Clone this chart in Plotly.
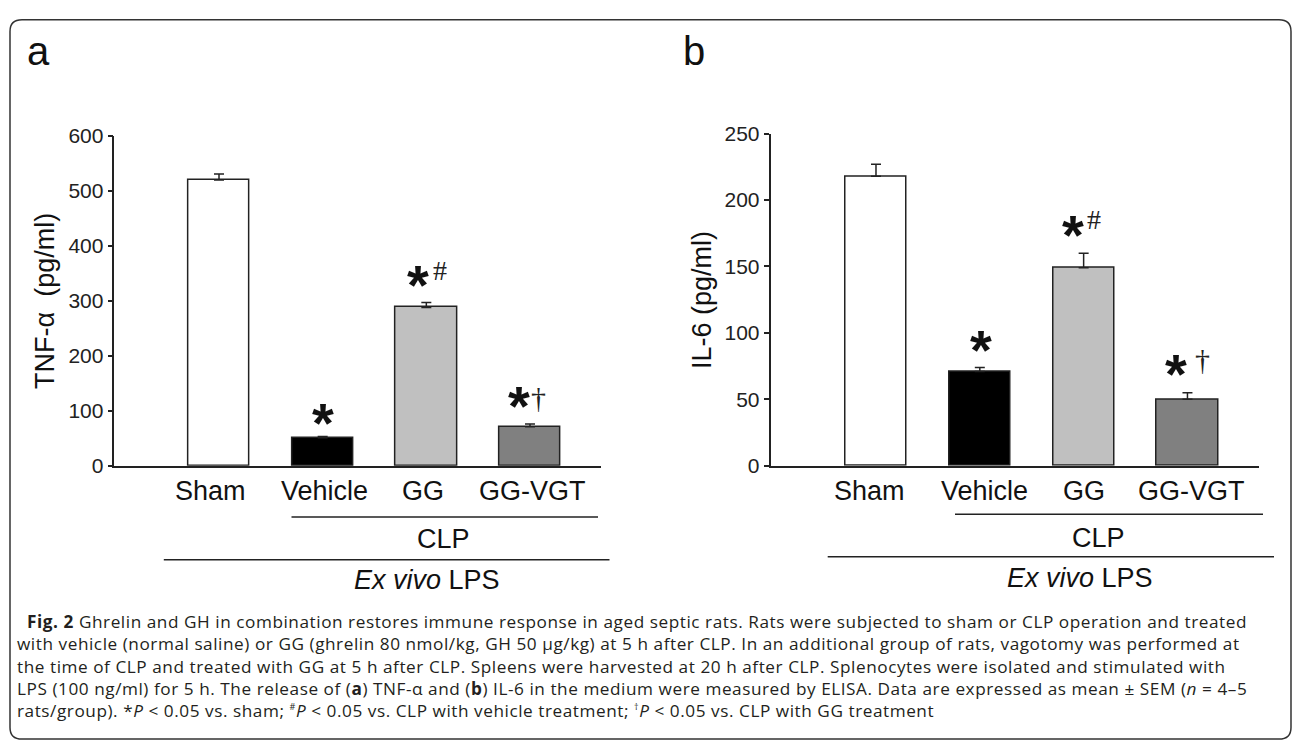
import plotly.graph_objects as go

W, H = 1295, 753

# ---------------- data ----------------
categories = ["Sham", "Vehicle", "GG", "GG-VGT"]
tnf_mean = [520, 51, 288, 71]
tnf_sem = [11, 2, 9, 5]
il6_mean = [218, 71, 149, 50]
il6_sem = [9, 3, 11, 5]
tnf_ticks = [0, 100, 200, 300, 400, 500, 600]
il6_ticks = [0, 50, 100, 150, 200, 250]
bar_colors = ["#ffffff", "#000000", "#c0c0c0", "#808080"]
tnf_marks = ["", "*", "*#", "*†"]
il6_marks = ["", "*", "*#", "*†"]

SUP = '<sup><span style="font-size:9px">{}</span></sup>'
caption_lines = [
    "&nbsp;&nbsp;<b>Fig. 2</b> Ghrelin and GH in combination restores immune response in aged septic rats. Rats were subjected to sham or CLP operation and treated",
    "with vehicle (normal saline) or GG (ghrelin 80 nmol/kg, GH 50 μg/kg) at 5 h after CLP. In an additional group of rats, vagotomy was performed at",
    "the time of CLP and treated with GG at 5 h after CLP. Spleens were harvested at 20 h after CLP. Splenocytes were isolated and stimulated with",
    "LPS (100 ng/ml) for 5 h. The release of (<b>a</b>) TNF-α and (<b>b</b>) IL-6 in the medium were measured by ELISA. Data are expressed as mean ± SEM (<i>n</i> = 4–5",
    "rats/group). *<i>P</i> &lt; 0.05 vs. sham; " + SUP.format("#") + "<i>P</i> &lt; 0.05 vs. CLP with vehicle treatment; "
    + SUP.format("†") + "<i>P</i> &lt; 0.05 vs. CLP with GG treatment",
]

# ---------------- helpers ----------------
def px(x):
    return x / W

def py(y):
    return 1 - y / H

INK = "#222222"
SANS = "Liberation Sans, Arial, sans-serif"
SERIF = "Liberation Serif, Times New Roman, serif"

fig = go.Figure()

panels = [
    dict(xa="x", ya="y", mean=tnf_mean, sem=tnf_sem),
    dict(xa="x2", ya="y2", mean=il6_mean, sem=il6_sem),
]

for p in panels:
    fig.add_trace(go.Bar(
        x=list(range(len(categories))), y=p["mean"],
        xaxis=p["xa"], yaxis=p["ya"],
        width=0.59,
        marker=dict(color=bar_colors, line=dict(color=INK, width=1.5)),
        error_y=dict(type="data", array=p["sem"], arrayminus=[0] * len(p["sem"]),
                     symmetric=False, color=INK, thickness=1.5, width=5),
        showlegend=False, hoverinfo="skip",
    ))

axis_common = dict(showline=True, linecolor=INK, linewidth=1.5, showgrid=False,
                   zeroline=False)

fig.update_layout(
    width=W, height=H,
    margin=dict(l=0, r=0, t=0, b=0),
    paper_bgcolor="white", plot_bgcolor="white",
    bargap=0,
    xaxis=dict(domain=[px(114.4), px(601)], range=[-1.009, 3.685],
               showticklabels=False, ticks="", anchor="y", **axis_common),
    yaxis=dict(domain=[py(468), py(128)], range=[0, 600], tickvals=tnf_ticks,
               ticks="outside", ticklen=5, tickwidth=1.5, tickcolor=INK,
               tickfont=dict(family=SANS, size=21, color=INK), anchor="x",
               **axis_common),
    xaxis2=dict(domain=[px(770.5), px(1259)], range=[-1.016, 3.689],
                showticklabels=False, ticks="", anchor="y2", **axis_common),
    yaxis2=dict(domain=[py(468), py(125.5)], range=[0, 250], tickvals=il6_ticks,
                ticks="outside", ticklen=5, tickwidth=1.5, tickcolor=INK,
                tickfont=dict(family=SANS, size=21, color=INK), anchor="x2",
                **axis_common),
)

ann = []
shapes = []

# category labels
for xa, shifts in (("x", [-9, 2, -3, 3]), ("x2", [-6, 5, 0, 4])):
    for i, c in enumerate(categories):
        ann.append(dict(x=i, xref=xa, y=py(494), yref="paper", text=c,
                        showarrow=False, xanchor="center", yanchor="middle",
                        xshift=shifts[i],
                        font=dict(family=SANS, size=27, color="#111")))

# significance marks (pixel offsets relative to the top of each error bar)
def add_marks(xa, ya, mean, sem, marks, star_dx, star_dy, sym_dx, sym_dy):
    for i, m in enumerate(marks):
        if not m:
            continue
        top = mean[i] + sem[i]
        ann.append(dict(x=i, xref=xa, y=top, yref=ya, text="<b>*</b>",
                        showarrow=False, xanchor="center", yanchor="middle",
                        xshift=star_dx[i], yshift=star_dy[i],
                        font=dict(family=SANS, size=56, color="#111")))
        if len(m) > 1:
            sz = 28 if m[1] == "#" else 30
            ann.append(dict(x=i, xref=xa, y=top, yref=ya, text=m[1],
                            showarrow=False, xanchor="center", yanchor="middle",
                            xshift=sym_dx[i], yshift=sym_dy[i],
                            font=dict(family=SERIF, size=sz, color="#222")))

add_marks("x", "y", tnf_mean, tnf_sem, tnf_marks,
          star_dx=[0, 0, -8, -11], star_dy=[0, 14.5, 18.2, 18.4],
          sym_dx=[0, 0, 14, 9], sym_dy=[0, 0, 31.7, 26.9])
add_marks("x2", "y2", il6_mean, il6_sem, il6_marks,
          star_dx=[0, 1.5, -11, -11], star_dy=[0, 18.1, 18.8, 19.1],
          sym_dx=[0, 0, 10.5, 15.5], sym_dy=[0, 0, 33.8, 33.6])

# bracket lines and group labels
for x0, x1, y in ((291.5, 598, 521), (163.8, 609.5, 565),
                  (955, 1263, 518), (827.7, 1274, 562)):
    shapes.append(dict(type="line", xref="paper", yref="paper",
                       x0=px(x0), x1=px(x1), y0=py(y), y1=py(y),
                       line=dict(color=INK, width=1.5)))

for cx, cy, t in ((443, 544, "CLP"), (1098, 543, "CLP"),
                  (427, 586, "<i>Ex vivo</i> LPS"), (1080, 584, "<i>Ex vivo</i> LPS")):
    ann.append(dict(x=px(cx), y=py(cy), xref="paper", yref="paper", text=t,
                    showarrow=False, xanchor="center", yanchor="middle",
                    font=dict(family=SANS, size=27, color="#111")))

# y-axis titles
for cx, cy, t in ((45, 298, "TNF-α  (pg/ml)"), (702, 297, "IL-6 (pg/ml)")):
    ann.append(dict(x=px(cx), y=py(cy), xref="paper", yref="paper", text=t,
                    textangle=-90, showarrow=False, xanchor="center",
                    yanchor="middle", font=dict(family=SANS, size=27, color="#111")))

# panel letters
for cx, t in ((38.5, "a"), (694, "b")):
    ann.append(dict(x=px(cx), y=py(40), xref="paper", yref="paper", text=t,
                    showarrow=False, xanchor="center", yanchor="middle",
                    font=dict(family=SANS, size=40, color="#111")))

# caption: one text block (line pitch = 1.3 x font size)
cap_text = "<br>".join(
    f'<span style="letter-spacing:0.55px">{line}</span>' for line in caption_lines)
ann.append(dict(x=px(15), y=py(675), xref="paper", yref="paper", text=cap_text,
                showarrow=False, xanchor="left", yanchor="middle", align="left",
                font=dict(family="Open Sans, sans-serif", size=17.2, color="#231f20")))

# rounded border
x0, x1, y0, y1, r = 10, 1291, 8, 750, 12
def P(x, y):
    return f"{px(x):.6f},{py(y):.6f}"
path = (f"M {P(x0 + r, y0)} L {P(x1 - r, y0)} Q {P(x1, y0)} {P(x1, y0 + r)} "
        f"L {P(x1, y1 - r)} Q {P(x1, y1)} {P(x1 - r, y1)} "
        f"L {P(x0 + r, y1)} Q {P(x0, y1)} {P(x0, y1 - r)} "
        f"L {P(x0, y0 + r)} Q {P(x0, y0)} {P(x0 + r, y0)} Z")
shapes.append(dict(type="path", xref="paper", yref="paper", path=path,
                   line=dict(color="#333", width=1.5)))

fig.update_layout(annotations=ann, shapes=shapes)
fig.write_html("out.html", config={"displayModeBar": False},
               post_script="document.body.style.margin='0px';document.body.style.overflow='hidden';")
